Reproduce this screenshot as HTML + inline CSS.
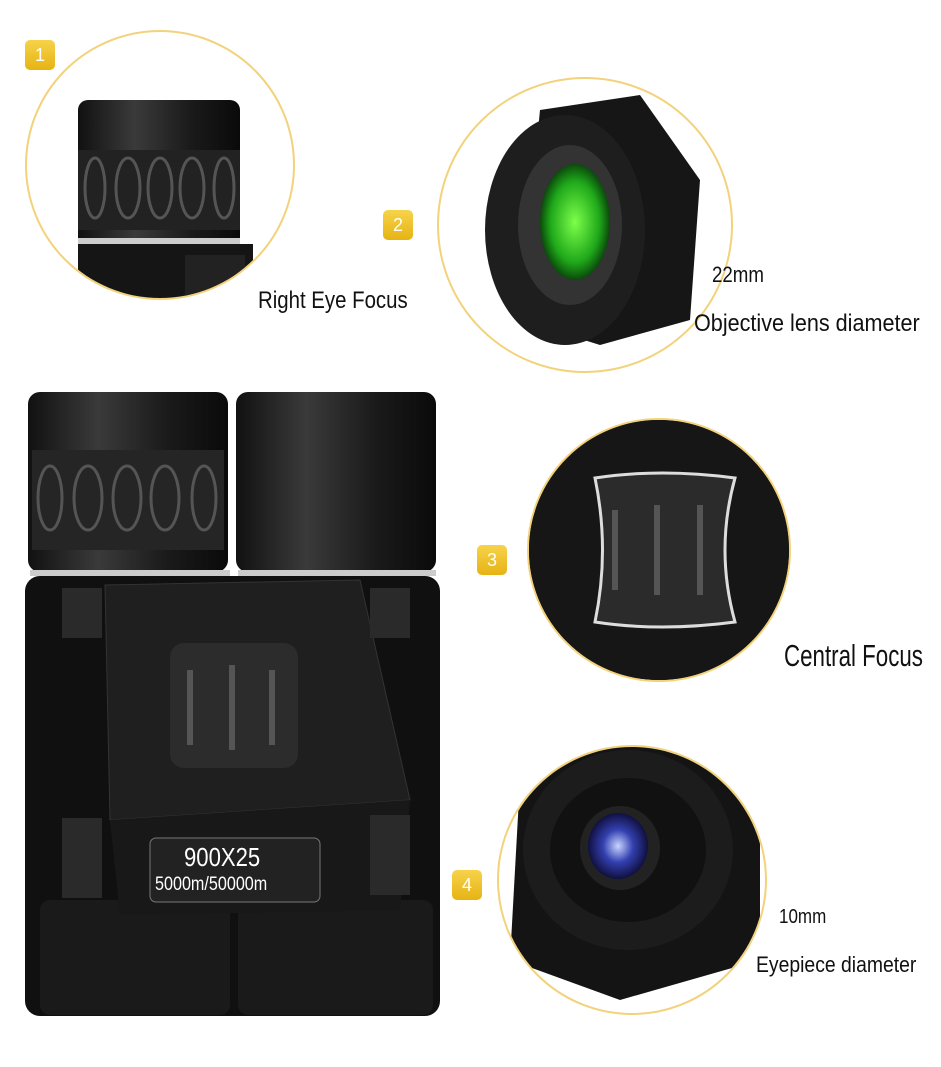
<!DOCTYPE html>
<html><head><meta charset="utf-8"><style>
body{margin:0;background:#fff;width:941px;height:1067px;overflow:hidden;font-family:"Liberation Sans",sans-serif}
.t{position:absolute;color:#111;font-family:"Liberation Sans",sans-serif;transform:scaleX(.85);transform-origin:left;white-space:nowrap}
.b{position:absolute;width:30px;height:30px;border-radius:5px;background:linear-gradient(#f7d34a,#e6b314);color:#fff;font-size:18px;text-align:center;line-height:30px}
</style></head><body>
<svg width="941" height="1067" style="position:absolute;left:0;top:0">
<defs>
<linearGradient id="g" x1="0" x2="1"><stop offset="0" stop-color="#111"/><stop offset=".35" stop-color="#3a3a3a"/><stop offset=".7" stop-color="#1a1a1a"/><stop offset="1" stop-color="#0a0a0a"/></linearGradient>
<clipPath id="c1"><circle cx="160" cy="165" r="133"/></clipPath>
<clipPath id="c2"><circle cx="585" cy="225" r="146"/></clipPath>
<clipPath id="c3"><circle cx="659" cy="550" r="130"/></clipPath>
<clipPath id="c4"><circle cx="632" cy="880" r="133"/></clipPath>
<radialGradient id="gr"><stop offset="0" stop-color="#7dff4a"/><stop offset=".7" stop-color="#1fa81a"/><stop offset="1" stop-color="#0b4a0b"/></radialGradient>
<radialGradient id="bl"><stop offset="0" stop-color="#c8d4ff"/><stop offset=".5" stop-color="#3340b0"/><stop offset="1" stop-color="#101040"/></radialGradient>
</defs>
<circle cx="160" cy="165" r="134" fill="#fff" stroke="#f2d27a" stroke-width="2"/>
<g clip-path="url(#c1)">
<rect x="78" y="100" width="162" height="150" rx="10" fill="url(#g)"/>
<rect x="78" y="150" width="162" height="80" fill="#222"/>
<g fill="none" stroke="#555" stroke-width="3"><ellipse cx="95" cy="188" rx="10" ry="30"/><ellipse cx="128" cy="188" rx="12" ry="30"/><ellipse cx="160" cy="188" rx="12" ry="30"/><ellipse cx="192" cy="188" rx="12" ry="30"/><ellipse cx="224" cy="188" rx="10" ry="30"/></g>
<rect x="78" y="238" width="162" height="6" fill="#ccc"/>
<rect x="78" y="244" width="175" height="70" fill="#151515"/>
<rect x="185" y="255" width="60" height="50" fill="#222"/>
</g>
<circle cx="585" cy="225" r="147" fill="#fff" stroke="#f2d27a" stroke-width="2"/>
<g clip-path="url(#c2)">
<path d="M540 110 L640 95 L700 180 L690 320 L600 345 L520 320 Z" fill="#161616"/>
<ellipse cx="565" cy="230" rx="80" ry="115" fill="#1e1e1e"/>
<ellipse cx="570" cy="225" rx="52" ry="80" fill="#333"/>
<ellipse cx="575" cy="222" rx="35" ry="58" fill="url(#gr)"/>
</g>
<circle cx="659" cy="550" r="131" fill="#111" stroke="#f2d27a" stroke-width="2"/>
<g clip-path="url(#c3)">
<rect x="528" y="420" width="270" height="260" fill="#161616"/>
<path d="M595 478 Q660 468 735 478 Q715 550 735 622 Q660 632 595 622 Q610 550 595 478Z" fill="#2b2b2b" stroke="#ddd" stroke-width="3"/>
<g stroke="#555" stroke-width="6" fill="none"><line x1="615" y1="510" x2="615" y2="590"/><line x1="657" y1="505" x2="657" y2="595"/><line x1="700" y1="505" x2="700" y2="595"/></g>
</g>
<circle cx="632" cy="880" r="134" fill="#fff" stroke="#f2d27a" stroke-width="2"/>
<g clip-path="url(#c4)">
<path d="M520 780 L640 730 L760 780 L760 960 L620 1000 L510 960Z" fill="#141414"/>
<ellipse cx="628" cy="850" rx="105" ry="100" fill="#1c1c1c"/>
<ellipse cx="628" cy="850" rx="78" ry="72" fill="#111"/>
<ellipse cx="620" cy="848" rx="40" ry="42" fill="#222"/>
<ellipse cx="618" cy="846" rx="30" ry="33" fill="url(#bl)"/>
</g>
<rect x="28" y="392" width="200" height="180" rx="12" fill="url(#g)"/>
<rect x="236" y="392" width="200" height="180" rx="12" fill="url(#g)"/>
<rect x="32" y="450" width="192" height="100" fill="#252525"/>
<g fill="none" stroke="#555" stroke-width="3"><ellipse cx="50" cy="498" rx="12" ry="32"/><ellipse cx="88" cy="498" rx="14" ry="32"/><ellipse cx="127" cy="498" rx="14" ry="32"/><ellipse cx="165" cy="498" rx="14" ry="32"/><ellipse cx="204" cy="498" rx="12" ry="32"/></g>
<rect x="30" y="570" width="200" height="6" fill="#ccc"/><rect x="238" y="570" width="198" height="6" fill="#ccc"/>
<rect x="25" y="576" width="415" height="440" rx="15" fill="#101010"/>
<rect x="40" y="900" width="190" height="115" rx="10" fill="#1a1a1a"/>
<rect x="238" y="900" width="195" height="115" rx="10" fill="#1a1a1a"/>
<path d="M105 585 L360 580 L410 800 L110 820Z" fill="#1f1f1f" stroke="#333"/>
<rect x="170" y="643" width="128" height="125" rx="14" fill="#2c2c2c"/>
<g stroke="#555" stroke-width="6"><line x1="190" y1="670" x2="190" y2="745"/><line x1="232" y1="665" x2="232" y2="750"/><line x1="272" y1="670" x2="272" y2="745"/></g>
<path d="M110 820 L410 800 L400 910 L120 915Z" fill="#181818"/>
<rect x="150" y="838" width="170" height="64" rx="6" fill="#222" stroke="#777"/>
<g fill="#2a2a2a"><rect x="62" y="588" width="40" height="50"/><rect x="370" y="588" width="40" height="50"/><rect x="62" y="818" width="40" height="80"/><rect x="370" y="815" width="40" height="80"/></g>
</svg>
<div class="b" style="left:25px;top:40px">1</div>
<div class="b" style="left:383px;top:210px">2</div>
<div class="b" style="left:477px;top:545px">3</div>
<div class="b" style="left:452px;top:870px">4</div>
<div class="t" style="left:258px;top:287px;font-size:24px">Right Eye Focus</div>
<div class="t" style="left:712px;top:262px;font-size:22px">22mm</div>
<div class="t" style="left:694px;top:310px;font-size:24px;transform:scaleX(.9)">Objective lens diameter</div>
<div class="t" style="left:784px;top:638px;font-size:31px;transform:scaleX(.72)">Central Focus</div>
<div class="t" style="left:779px;top:906px;font-size:20px">10mm</div>
<div class="t" style="left:756px;top:952px;font-size:22px;transform:scaleX(.88)">Eyepiece diameter</div>
<div class="t" style="left:184px;top:842px;font-size:26px;color:#fff">900X25</div>
<div class="t" style="left:155px;top:874px;font-size:19px;color:#fff">5000m/50000m</div>
</body></html>
